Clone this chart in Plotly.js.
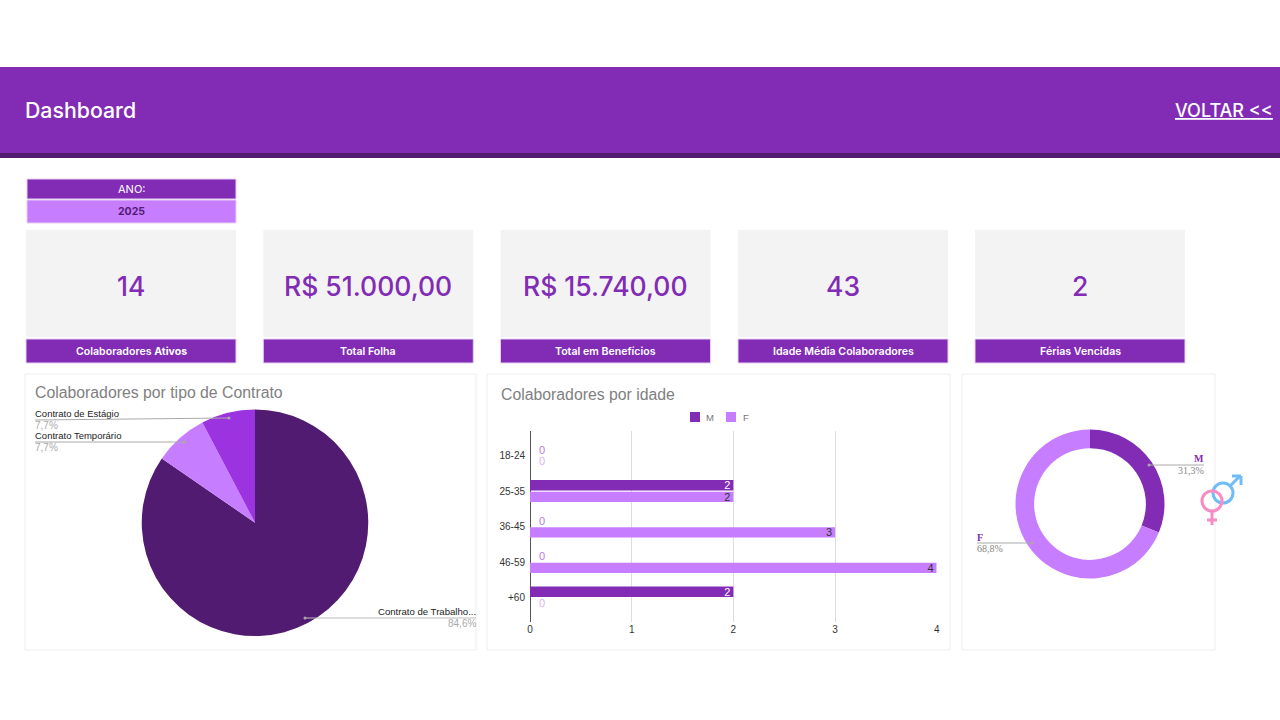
<!DOCTYPE html>
<html>
<head>
<meta charset="utf-8">
<title>Dashboard</title>
<script src="https://cdn.plot.ly/plotly-3.0.1.min.js"></script>
<style>
html, body { margin: 0; padding: 0; background: white; }
#chart { width: 1280px; height: 720px; }
</style>
</head>
<body>
<div id="chart"></div>
<script>
// data
var kpiValues = ["14", "R$ 51.000,00", "R$ 15.740,00", "43", "2"];
var kpiLabels = ["Colaboradores <b>Ativos</b>", "Total Folha", "Total em Benefícios", "Idade Média Colaboradores", "Férias Vencidas"];
var contractTypes = ["Contrato de Trabalho...", "Contrato Temporário", "Contrato de Estágio"];
var contractCounts = [11, 1, 1];
var contractPercents = ["84,6%", "7,7%", "7,7%"];
var ageGroups = ["18-24", "25-35", "36-45", "46-59", "+60"];
var ageMale = [0, 2, 0, 0, 2];
var ageFemale = [0, 2, 3, 4, 0];
var genders = ["M", "F"];
var genderCounts = [5, 11];
var genderPercents = ["31,3%", "68,8%"];
var filterYear = "2025";

var PURPLE = "#822cb5", DARK = "#521b72", LIGHT = "#c77dff", MID = "#9b33e0";
var SANS = "Liberation Sans, Arial, sans-serif";
var SERIF = "Liberation Serif, serif";
var HEAD = "Inter, sans-serif";

// everything around the charts is placed in page pixels
function px(x) { return x / 1280; }
function py(y) { return 1 - y / 720; }

function rect(x0, y0, x1, y1, fill, lineColor) {
    return {
        type: "rect", xref: "paper", yref: "paper", layer: "below",
        x0: px(x0), x1: px(x1), y0: py(y0), y1: py(y1),
        fillcolor: fill,
        line: { color: lineColor || fill, width: lineColor ? 1 : 0 }
    };
}
function line(x0, y0, x1, y1, color, width) {
    return {
        type: "line", xref: "paper", yref: "paper", layer: "above",
        x0: px(x0), x1: px(x1), y0: py(y0), y1: py(y1),
        line: { color: color, width: width }
    };
}
function dot(x, y) {
    return {
        type: "circle", xref: "paper", yref: "paper", layer: "above",
        x0: px(x - 1.5), x1: px(x + 1.5), y0: py(y + 1.5), y1: py(y - 1.5),
        fillcolor: "#aaa", line: { width: 0 }
    };
}
function ring(cx, cy, r, color) {
    return {
        type: "circle", xref: "paper", yref: "paper", layer: "above",
        x0: px(cx - r), x1: px(cx + r), y0: py(cy + r), y1: py(cy - r),
        fillcolor: "rgba(0,0,0,0)", line: { color: color, width: 3 }
    };
}
function label(x, y, text, size, color, anchor, family, weight) {
    return {
        xref: "paper", yref: "paper", x: px(x), y: py(y),
        text: text, showarrow: false, xanchor: anchor || "center", yanchor: "middle",
        font: { size: size, color: color, family: family || SANS, weight: weight || "normal" },
        borderpad: 0, borderwidth: 0
    };
}

var shapes = [
    rect(0, 67, 1280, 153, PURPLE),
    rect(0, 153, 1280, 158, DARK),
    rect(27, 179, 236, 199, PURPLE, "#e4d0f2"),
    rect(27, 200, 236, 223, LIGHT, "#e4d0f2"),
    rect(25, 374, 476, 650, "white", "#eeeeee"),
    rect(487, 374, 950, 650, "white", "#eeeeee"),
    rect(962, 374, 1215, 650, "white", "#eeeeee")
];
var annotations = [
    label(25, 109.5, "Dashboard", 21.3, "white", "left", HEAD, 500),
    label(1273, 110, "<u>VOLTAR &lt;&lt;</u>", 18, "white", "right", HEAD, 500),
    label(131, 189, "ANO:", 11, "white", "center", HEAD),
    label(131, 211, "<b>" + filterYear + "</b>", 10.5, DARK, "center", HEAD)
];

var cardLeft = [26, 263.3, 500.5, 738, 975];
kpiValues.forEach(function (v, i) {
    var x = cardLeft[i];
    shapes.push(rect(x, 230, x + 210, 337, "#f3f3f3"));
    shapes.push(rect(x, 339, x + 210, 363, PURPLE, "#e4d0f2"));
    annotations.push(label(x + 105, 286, v, 26.5, PURPLE, "center", HEAD, 500));
    annotations.push(label(x + 105, 351, kpiLabels[i], 10.6, "white", "center", HEAD, 600));
});

// chart titles
annotations.push(label(35, 393, "Colaboradores por tipo de Contrato", 15.8, "#808080", "left"));
annotations.push(label(501, 394, "Colaboradores por idade", 15.8, "#808080", "left"));

// age chart legend
shapes.push(rect(690, 412, 700, 422, PURPLE));
shapes.push(rect(726, 412, 736, 422, LIGHT));
annotations.push(label(706, 417, "M", 9.5, "#757575", "left"));
annotations.push(label(743, 417, "F", 9.5, "#757575", "left"));

// pie leader lines and labels
shapes.push(line(35, 420, 229, 418, "#aaa", 1.2), dot(229, 418));
shapes.push(line(35, 442, 184, 442, "#aaa", 1.2), dot(184, 442));
shapes.push(line(305, 618, 476, 618, "#bbb", 1.2), dot(305, 618));
annotations.push(label(35, 413.5, contractTypes[2], 9.5, "#222", "left"));
annotations.push(label(35, 425.5, contractPercents[2], 10, "#aaa", "left"));
annotations.push(label(35, 436, contractTypes[1], 9.5, "#222", "left"));
annotations.push(label(35, 447.5, contractPercents[1], 10, "#aaa", "left"));
annotations.push(label(476, 611.5, contractTypes[0], 9.6, "#222", "right"));
annotations.push(label(476, 623, contractPercents[0], 10, "#aaa", "right"));

// donut leader lines and labels
shapes.push(line(1149, 465, 1204, 465, "#aaa", 1.2), dot(1149, 465));
shapes.push(line(977, 543, 1032, 543, "#aaa", 1.2), dot(1032, 543));
annotations.push(label(1204, 459, "<b>" + genders[0] + "</b>", 10, PURPLE, "right", SERIF));
annotations.push(label(1204, 470.5, genderPercents[0], 10, "#888", "right", SERIF));
annotations.push(label(977, 537, "<b>" + genders[1] + "</b>", 10, PURPLE, "left", SERIF));
annotations.push(label(977, 548.5, genderPercents[1], 10, "#888", "left", SERIF));

// gender symbol
var BLUE = "#6fbcf8", PINK = "#f78cc4";
shapes.push(ring(1223, 493, 10, BLUE));
shapes.push(line(1230, 486, 1240, 476, BLUE, 3));
shapes.push(line(1232, 476, 1241, 476, BLUE, 3));
shapes.push(line(1241, 476, 1241, 485, BLUE, 3));
shapes.push(ring(1212, 501, 10, PINK));
shapes.push(line(1212, 511, 1212, 525, PINK, 3));
shapes.push(line(1207, 520, 1217, 520, PINK, 3));

function barTrace(name, values, color, insideText, zeroText) {
    return {
        type: "bar", orientation: "h", name: name,
        y: ageGroups, x: values,
        marker: { color: color },
        text: values.map(function (v) { return v === 0 ? "\u00a0\u00a00" : String(v); }),
        textposition: values.map(function (v) { return v === 0 ? "outside" : "inside"; }),
        insidetextanchor: "end",
        textangle: 0,
        cliponaxis: false,
        textfont: {
            size: 11, family: SANS,
            color: values.map(function (v) { return v === 0 ? zeroText : insideText; })
        },
        showlegend: false,
        hoverinfo: "x+y"
    };
}

var data = [
    {
        type: "pie", labels: contractTypes, values: contractCounts,
        domain: { x: [px(141.7), px(368.3)], y: [py(636), py(409.5)] },
        sort: false, direction: "clockwise", rotation: 0,
        marker: { colors: [DARK, LIGHT, MID], line: { width: 0 } },
        textinfo: "none", showlegend: false, automargin: false
    },
    barTrace("M", ageMale, PURPLE, "white", "#b57ce6"),
    barTrace("F", ageFemale, LIGHT, "#333", "#dcb0ff"),
    {
        type: "pie", labels: genders, values: genderCounts, hole: 0.75,
        domain: { x: [px(1015.5), px(1164.5)], y: [py(578.5), py(429.5)] },
        sort: false, direction: "clockwise", rotation: 0,
        marker: { colors: [PURPLE, LIGHT], line: { width: 0 } },
        textinfo: "none", showlegend: false, automargin: false
    }
];

var layout = {
    width: 1280,
    height: 720,
    margin: { l: 0, r: 0, t: 0, b: 0, pad: 0 },
    paper_bgcolor: "white",
    plot_bgcolor: "rgba(0,0,0,0)",
    font: { family: SANS, size: 10, color: "#333" },
    barmode: "group",
    bargap: 0.35,
    bargroupgap: 0.1,
    uniformtext: { mode: "show", minsize: 11 },
    showlegend: false,
    xaxis: {
        domain: [px(530), px(936.7)], range: [0, 4], anchor: "y",
        dtick: 1, showgrid: true, gridcolor: "#dddddd", gridwidth: 1,
        zeroline: true, zerolinecolor: "#555555", zerolinewidth: 1,
        tickfont: { size: 10, color: "#333" }, fixedrange: true
    },
    yaxis: {
        domain: [py(622.4), py(430.7)], range: [4.7, -0.7], anchor: "x",
        type: "category", categoryorder: "array", categoryarray: ageGroups,
        showgrid: false, zeroline: false, showline: false,
        ticks: "", ticklabelstandoff: 4,
        tickfont: { size: 10, color: "#333" }, fixedrange: true
    },
    shapes: shapes,
    annotations: annotations
};

Plotly.newPlot("chart", data, layout, { displayModeBar: false });
</script>
</body>
</html>
